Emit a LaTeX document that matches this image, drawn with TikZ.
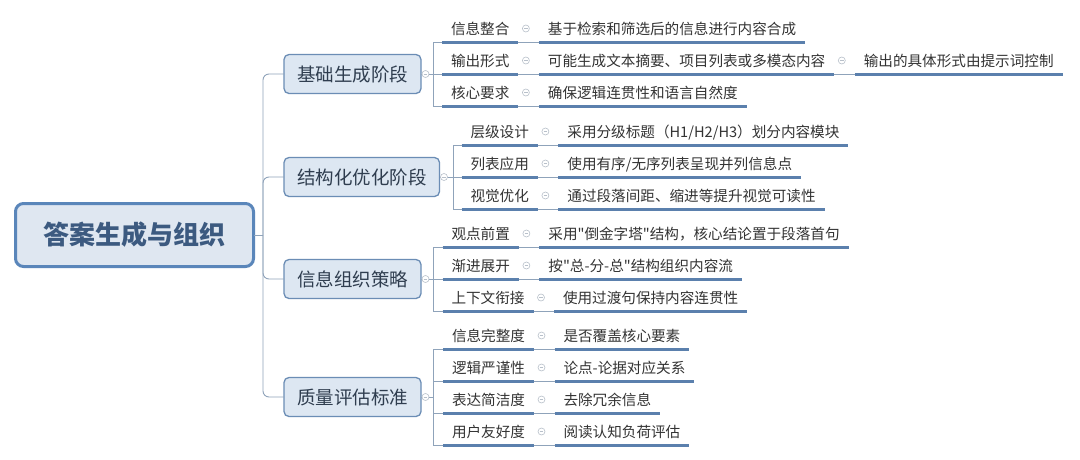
\documentclass[tikz,border=0pt]{standalone}
\usepackage{fontspec}
\setmainfont{Noto Sans CJK SC}
\newfontfamily\cjk{Noto Sans CJK SC}
\definecolor{connc}{HTML}{8FA3BA}
\definecolor{ulc}{HTML}{5B80AD}
\definecolor{leaftext}{HTML}{333333}
\definecolor{brdraw}{HTML}{6B8DB5}
\definecolor{brfill}{HTML}{DDE7F2}
\definecolor{brtext}{HTML}{2F3D4F}
\definecolor{rootdraw}{HTML}{5A86BA}
\definecolor{rootfill}{HTML}{DFE7F1}
\definecolor{roottext}{HTML}{3C5A80}
\definecolor{togc}{HTML}{B8C0CA}
\begin{document}
\begin{tikzpicture}[x=1pt,y=-1pt,
  conn/.style={draw=connc, line width=0.9pt},
  ul/.style={draw=ulc, line width=3pt},
  leaf/.style={font=\cjk\fontsize{14.6}{14.6}\selectfont, text=leaftext, inner xsep=9pt, inner ysep=7.9pt,
    text height=11.2pt, text depth=0pt, outer sep=0pt, anchor=south west},
  branch/.style={draw=brdraw, fill=brfill, line width=1.3pt, rounded corners=5pt,
    font=\cjk\fontsize{18.5}{18.5}\selectfont, text=brtext, inner xsep=13pt, inner ysep=0pt,
    minimum height=39pt, text height=14pt, text depth=0pt, anchor=west, outer sep=0pt},
  rootbox/.style={draw=rootdraw, fill=rootfill, line width=3pt, rounded corners=8pt,
    font=\cjk\fontsize{26}{26}\selectfont\bfseries, text=roottext, minimum width=238pt,
    minimum height=63pt, text height=19.8pt, text depth=0pt, inner sep=0pt, outer sep=0pt},
  tog/.style={circle, draw=togc, fill=white, line width=0.6pt, minimum size=7pt, inner sep=0pt,
    path picture={\draw[togc, line width=0.6pt]
      ([xshift=-1.8pt]path picture bounding box.center) -- ([xshift=1.8pt]path picture bounding box.center);}}
]
\fill[white] (0,0) rectangle (1080,459);
\useasboundingbox (0,0) rectangle (1080,459);

% root and branches
\node[rootbox] (root) at (134.5,235) {答案生成与组织};
\coordinate (tr) at (263,235);
\node[branch] (b1) at (284,74) {基础生成阶段};
\node[branch] (b2) at (284,177) {结构化优化阶段};
\node[branch] (b3) at (284,279) {信息组织策略};
\node[branch] (b4) at (284,397) {质量评估标准};
\draw[conn] (root.east) -- (tr);
\foreach \b in {b1,b2,b3,b4} \draw[conn, rounded corners=6pt] (tr) |- (\b.west);

% bracket points
\coordinate (k1) at (433,74);
\coordinate (k2) at (453,177);
\coordinate (k3) at (433,279);
\coordinate (k4) at (433,397);
\foreach \i in {1,2,3,4} \draw[conn] (b\i.east) -- (k\i);
\foreach \i in {1,2,3,4} \node[tog] (bt\i) at ([xshift=4.5pt]b\i.east) {};

% level-2 leaves
\node[leaf] (a11) at (442,42) {信息整合};
\node[leaf] (a12) at (442,74) {输出形式};
\node[leaf] (a13) at (442,106) {核心要求};
\node[leaf] (a21) at (461.5,145) {层级设计};
\node[leaf] (a22) at (461.5,177) {列表应用};
\node[leaf] (a23) at (461.5,209) {视觉优化};
\node[leaf] (a31) at (442.5,247) {观点前置};
\node[leaf] (a32) at (442.5,279) {渐进展开};
\node[leaf] (a33) at (442.5,311) {上下文衔接};
\node[leaf] (a41) at (443,349) {信息完整度};
\node[leaf] (a42) at (443,381) {逻辑严谨性};
\node[leaf] (a43) at (443,413) {表达简洁度};
\node[leaf] (a44) at (443,445) {用户友好度};

% level-3 leaves
\node[leaf] (c11) at ([xshift=20.5pt]a11.south east) {基于检索和筛选后的信息进行内容合成};
\node[leaf] (c12) at ([xshift=20.5pt]a12.south east) {可能生成文本摘要、项目列表或多模态内容};
\node[leaf] (c13) at ([xshift=20.5pt]a13.south east) {确保逻辑连贯性和语言自然度};
\node[leaf] (c21) at ([xshift=20.5pt]a21.south east) {采用分级标题（H1/H2/H3）划分内容模块};
\node[leaf] (c22) at ([xshift=20.5pt]a22.south east) {使用有序/无序列表呈现并列信息点};
\node[leaf] (c23) at ([xshift=20.5pt]a23.south east) {通过段落间距、缩进等提升视觉可读性};
\node[leaf] (c31) at ([xshift=20.5pt]a31.south east) {采用"倒金字塔"结构，核心结论置于段落首句};
\node[leaf] (c32) at ([xshift=20.5pt]a32.south east) {按"总-分-总"结构组织内容流};
\node[leaf] (c33) at ([xshift=20.5pt]a33.south east) {使用过渡句保持内容连贯性};
\node[leaf] (c41) at ([xshift=20.5pt]a41.south east) {是否覆盖核心要素};
\node[leaf] (c42) at ([xshift=20.5pt]a42.south east) {论点-论据对应关系};
\node[leaf] (c43) at ([xshift=20.5pt]a43.south east) {去除冗余信息};
\node[leaf] (c44) at ([xshift=20.5pt]a44.south east) {阅读认知负荷评估};
% level-4 leaf
\node[leaf] (d12) at ([xshift=20.5pt]c12.south east) {输出的具体形式由提示词控制};

% brackets to leaves
\foreach \n in {a11,a12,a13} \draw[conn] (k1) |- (\n.south west);
\foreach \n in {a21,a22,a23} \draw[conn] (k2) |- (\n.south west);
\foreach \n in {a31,a32,a33} \draw[conn] (k3) |- (\n.south west);
\foreach \n in {a41,a42,a43,a44} \draw[conn] (k4) |- (\n.south west);

% leaf to child connectors and toggles
\foreach \p/\c in {a11/c11,a12/c12,a13/c13,a21/c21,a22/c22,a23/c23,a31/c31,a32/c32,a33/c33,a41/c41,a42/c42,a43/c43,a44/c44,c12/d12}{
  \draw[conn] (\p.south east) -- (\c.south west);
  \node[tog] (g\p) at ([xshift=7.5pt,yshift=13.5pt]\p.south east) {};
}

% underlines
\foreach \n in {a11,a12,a13,a21,a22,a23,a31,a32,a33,a41,a42,a43,a44,
                c11,c12,c13,c21,c22,c23,c31,c32,c33,c41,c42,c43,c44,d12}
  \draw[ul] (\n.south west) -- (\n.south east);
\end{tikzpicture}
\end{document}
